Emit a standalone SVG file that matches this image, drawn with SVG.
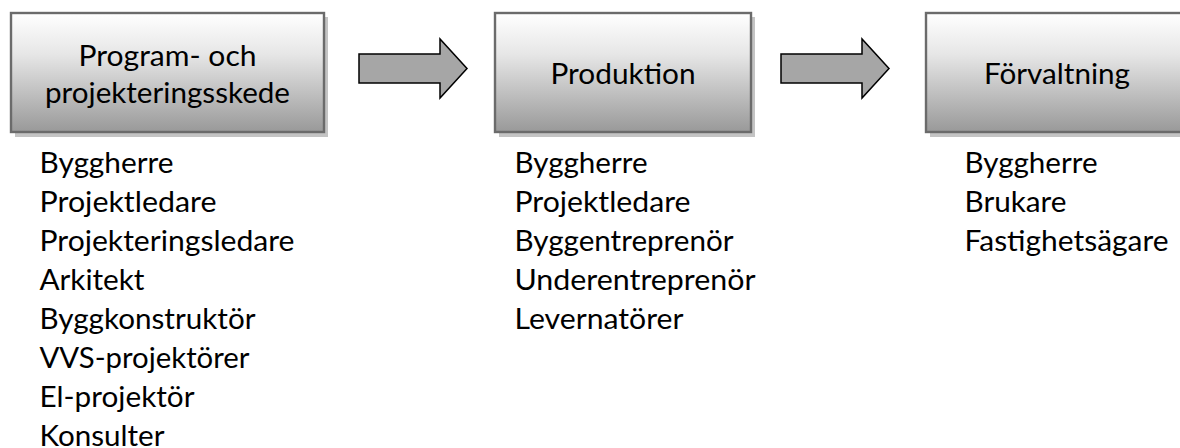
<svg xmlns="http://www.w3.org/2000/svg" width="1180" height="448" viewBox="0 0 1180 448">
<defs>
<linearGradient id="boxGrad" x1="0" y1="0" x2="0" y2="1">
<stop offset="0" stop-color="#ffffff"/>
<stop offset="0.35" stop-color="#e6e6e6"/>
<stop offset="1" stop-color="#999999"/>
</linearGradient>
<style>
.shadow{fill:#c4c4c4;}
.box{fill:url(#boxGrad);stroke:#6b6b6b;stroke-width:2.4;}
.title{font-family:Lato,"Liberation Sans",sans-serif;font-size:29px;fill:#000;text-anchor:middle;}
.item{font-family:Lato,"Liberation Sans",sans-serif;font-size:29px;fill:#000;}
.arrow{fill:#a6a6a6;stroke:#000;stroke-width:1.5;stroke-linejoin:miter;}
</style>
</defs>
<rect width="1180" height="448" fill="#ffffff"/>
<g id="connectors">
<polygon class="arrow" points="359,54 440,54 440,39 467,68.5 440,98 440,83 359,83"/>
<polygon class="arrow" points="781,54 862,54 862,39 889,68.5 862,98 862,83 781,83"/>
</g>
<g id="node-program">
<rect class="shadow" x="15" y="17" width="313" height="120"/>
<rect class="box" x="11" y="13" width="313" height="119"/>
<text class="title" x="167.5" y="66" textLength="178" lengthAdjust="spacingAndGlyphs">Program- och</text>
<text class="title" x="167.5" y="103" textLength="245" lengthAdjust="spacingAndGlyphs">projekteringsskede</text>
</g>
<g id="node-produktion">
<rect class="shadow" x="499" y="17" width="256" height="120"/>
<rect class="box" x="495" y="13" width="256" height="119"/>
<text class="title" x="623" y="84" textLength="145" lengthAdjust="spacingAndGlyphs">Produktion</text>
</g>
<g id="node-forvaltning">
<rect class="shadow" x="930" y="17" width="262" height="120"/>
<rect class="box" x="926" y="13" width="262" height="119"/>
<text class="title" x="1057" y="84" textLength="146" lengthAdjust="spacingAndGlyphs">Förvaltning</text>
</g>
<g id="list-program">
<text class="item" x="39.5" y="173" textLength="134" lengthAdjust="spacingAndGlyphs">Byggherre</text>
<text class="item" x="39.5" y="212" textLength="177" lengthAdjust="spacingAndGlyphs">Projektledare</text>
<text class="item" x="39.5" y="251" textLength="255" lengthAdjust="spacingAndGlyphs">Projekteringsledare</text>
<text class="item" x="39.5" y="290" textLength="105" lengthAdjust="spacingAndGlyphs">Arkitekt</text>
<text class="item" x="39.5" y="329" textLength="216" lengthAdjust="spacingAndGlyphs">Byggkonstruktör</text>
<text class="item" x="39.5" y="368" textLength="210" lengthAdjust="spacingAndGlyphs">VVS-projektörer</text>
<text class="item" x="39.5" y="407" textLength="155" lengthAdjust="spacingAndGlyphs">El-projektör</text>
<text class="item" x="39.5" y="446" textLength="125" lengthAdjust="spacingAndGlyphs">Konsulter</text>
</g>
<g id="list-produktion">
<text class="item" x="514.5" y="173" textLength="133" lengthAdjust="spacingAndGlyphs">Byggherre</text>
<text class="item" x="514.5" y="212" textLength="176" lengthAdjust="spacingAndGlyphs">Projektledare</text>
<text class="item" x="514.5" y="251" textLength="219" lengthAdjust="spacingAndGlyphs">Byggentreprenör</text>
<text class="item" x="514.5" y="290" textLength="241" lengthAdjust="spacingAndGlyphs">Underentreprenör</text>
<text class="item" x="514.5" y="329" textLength="169" lengthAdjust="spacingAndGlyphs">Levernatörer</text>
</g>
<g id="list-forvaltning">
<text class="item" x="964.5" y="173" textLength="133" lengthAdjust="spacingAndGlyphs">Byggherre</text>
<text class="item" x="964.5" y="212" textLength="102" lengthAdjust="spacingAndGlyphs">Brukare</text>
<text class="item" x="964.5" y="251" textLength="204" lengthAdjust="spacingAndGlyphs">Fastighetsägare</text>
</g>
</svg>
